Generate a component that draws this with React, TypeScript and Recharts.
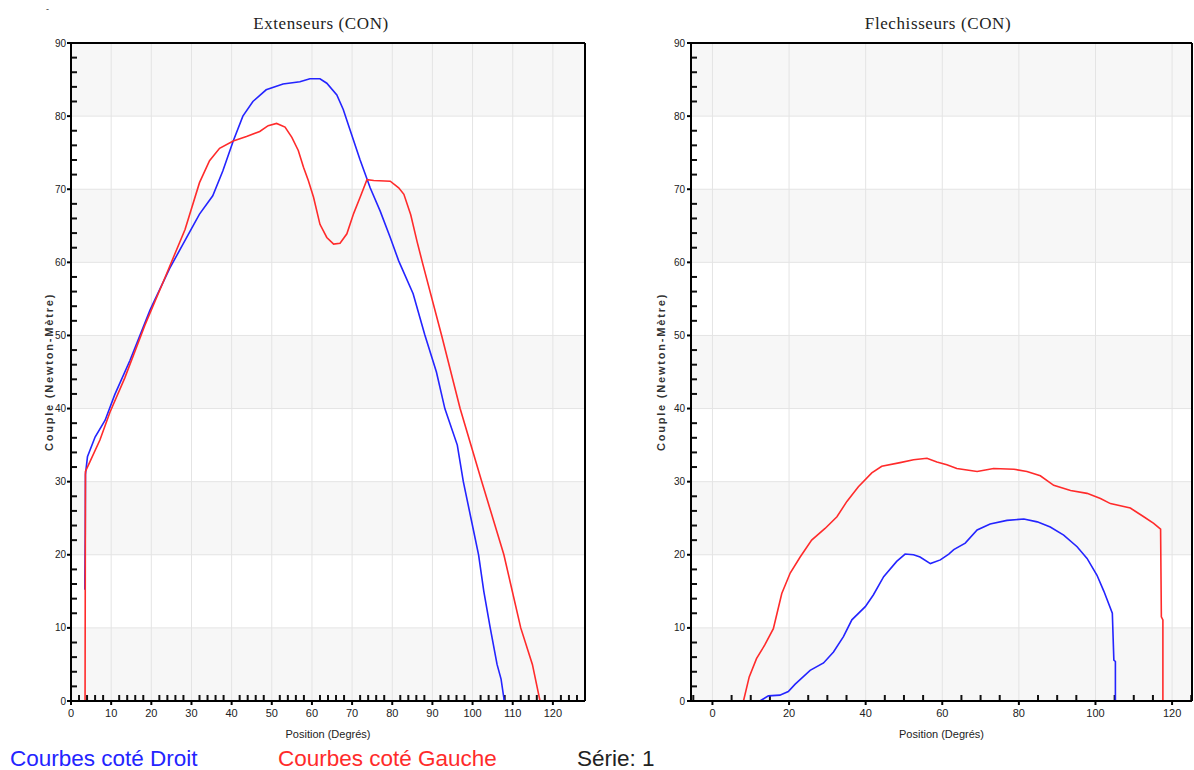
import React from "react";
import { LineChart, Line, XAxis, YAxis, CartesianGrid, ReferenceLine } from "recharts";

// Extenseurs (CON) – right side (blue) and left side (red)
const extDroitX = [3.45, 3.45, 3.55, 3.6, 4.1, 6.0, 8.5, 10.9, 14.7, 19.7, 24.6, 29.6, 32.0, 35.3, 37.8, 40.4, 42.8, 45.3, 48.6, 52.8, 57.0, 59.5, 62.0, 63.7, 66.2, 67.8, 69.5, 72.0, 74.5, 77.0, 79.5, 81.6, 85.2, 88.1, 91.0, 93.1, 96.2, 97.7, 99.6, 101.5, 102.8, 104.4, 106.1, 107.1, 107.9];
const extDroitY = [15.2, 16.4, 23.0, 31.0, 33.4, 36.1, 38.4, 41.9, 46.6, 53.5, 59.2, 64.2, 66.6, 69.1, 72.5, 76.6, 80.0, 82.0, 83.6, 84.4, 84.7, 85.1, 85.1, 84.5, 82.9, 80.9, 78.1, 74.0, 70.2, 67.0, 63.4, 60.2, 55.7, 50.1, 45.0, 40.0, 35.0, 30.0, 25.0, 20.0, 15.0, 10.0, 5.0, 3.0, 0];

const extGaucheX = [3.5, 3.6, 4.7, 7.2, 9.7, 13.4, 18.4, 23.4, 28.4, 32.0, 34.5, 37.0, 40.4, 43.7, 47.0, 49.1, 51.2, 53.3, 55.0, 56.6, 57.9, 59.1, 60.4, 62.0, 63.7, 65.4, 67.0, 68.7, 70.4, 72.0, 73.7, 75.4, 79.5, 81.6, 82.9, 84.6, 86.2, 87.5, 92.3, 96.9, 102.3, 107.8, 112.0, 114.9, 116.8];
const extGaucheY = [0, 31.4, 32.7, 35.7, 39.5, 44.2, 51.4, 57.9, 64.5, 70.9, 73.9, 75.6, 76.6, 77.2, 77.9, 78.7, 79.0, 78.5, 77.1, 75.3, 73.0, 71.2, 68.9, 65.2, 63.4, 62.5, 62.6, 63.9, 66.7, 68.9, 71.3, 71.2, 71.1, 70.2, 69.3, 66.5, 62.8, 60.0, 50.0, 40.0, 30.0, 20.0, 10.0, 5.0, 0];

// Flechisseurs (CON)
const flxDroitX = [12.4, 14.6, 17.6, 19.8, 21.6, 25.5, 29.0, 31.6, 34.2, 36.4, 39.9, 42.0, 44.7, 48.1, 50.3, 52.5, 54.2, 56.9, 59.5, 61.7, 63.0, 66.0, 69.1, 72.5, 76.9, 81.3, 84.8, 88.2, 91.7, 95.2, 97.8, 100.4, 102.2, 104.4, 104.8, 105.2, 105.2];
const flxDroitY = [0, 0.7, 0.8, 1.3, 2.3, 4.2, 5.2, 6.7, 8.8, 11.1, 12.9, 14.5, 17.0, 19.1, 20.1, 20.0, 19.7, 18.8, 19.3, 20.1, 20.7, 21.6, 23.4, 24.2, 24.7, 24.9, 24.5, 23.8, 22.7, 21.1, 19.5, 17.2, 15.0, 12.0, 5.6, 5.4, 0];

const flxGaucheX = [8.1, 9.6, 11.5, 13.7, 15.9, 18.1, 20.3, 22.9, 25.9, 29.4, 32.5, 35.1, 38.1, 41.6, 44.2, 49.0, 52.5, 56.0, 58.6, 61.2, 63.8, 69.1, 73.4, 78.7, 82.1, 85.6, 89.1, 93.5, 97.8, 101.3, 103.9, 109.1, 112.6, 115.2, 117.0, 117.2, 117.6, 117.6];
const flxGaucheY = [0, 3.3, 5.8, 7.7, 9.9, 14.7, 17.5, 19.7, 22.0, 23.6, 25.2, 27.3, 29.3, 31.2, 32.1, 32.6, 33.0, 33.2, 32.7, 32.3, 31.8, 31.4, 31.8, 31.7, 31.4, 30.8, 29.5, 28.8, 28.4, 27.7, 27.0, 26.4, 25.2, 24.3, 23.5, 11.5, 11.1, 0];

// axes: labelled (major) ticks, plus the small unlabelled ticks between them
const yTicks = [0, 10, 20, 30, 40, 50, 60, 70, 80, 90];
const extXTicks = [0, 10, 20, 30, 40, 50, 60, 70, 80, 90, 100, 110, 120];
const flxXTicks = [0, 20, 40, 60, 80, 100, 120];

const minorOf = (from: number, to: number, step: number, majors: number[]) => {
  const out: number[] = [];
  for (let v = from; v <= to + 1e-9; v += step) {
    const r = Math.round(v * 10) / 10;
    if (!majors.includes(r)) out.push(r);
  }
  return out;
};
const yMinor = minorOf(0, 88, 2, yTicks);
const extXMinor = minorOf(2, 126, 2, extXTicks);
const flxXMinor = minorOf(-5, 125, 5, flxXTicks);

const BLUE = "#2424ff";
const RED = "#ff2b2b";
const SANS = "Liberation Sans, Arial, sans-serif";
const SERIF = "Liberation Serif, Times New Roman, serif";
const TICK = 4;
const MINOR_PX = 6;
const PLOT_TOP = 43;
const PLOT_BOTTOM = 29 + 40;
const Y_DOMAIN: [number, number] = [0, 90];

const toPoints = (xs: number[], ys: number[]) => xs.map((x, i) => ({ x, y: ys[i] }));

// labelled ticks point outwards
const makeXTick = (margin: number) => (props: any) => {
  const { x, y, payload } = props;
  const axisY = y - TICK - margin;
  return (
    <g>
      <line x1={x} x2={x} y1={axisY} y2={axisY + TICK} stroke="#000" strokeWidth={2} />
      <text x={x} y={y} dy="0.71em" textAnchor="middle" fontSize={11} fill="#222" fontFamily={SANS}>
        {payload.value}
      </text>
    </g>
  );
};

const makeYTick = (margin: number) => (props: any) => {
  const { x, y, payload } = props;
  const axisX = x + TICK + margin;
  return (
    <g>
      <line x1={axisX - TICK} x2={axisX} y1={y} y2={y} stroke="#000" strokeWidth={2} />
      <text x={x} y={y} dy="0.355em" textAnchor="end" fontSize={10} fill="#222" fontFamily={SANS}>
        {payload.value}
      </text>
    </g>
  );
};

interface PanelProps {
  title: string;
  titleCenter: number;
  left: number;
  width: number;
  marginLeft: number;
  marginRight: number;
  xDomain: [number, number];
  xTicks: number[];
  xMinor: number[];
  droit: { x: number; y: number }[];
  gauche: { x: number; y: number }[];
  yLabelDx: number;
  yTickMargin: number;
}

function Panel(p: PanelProps) {
  const yAxisWidth = 40;
  const plotW = p.width - p.marginLeft - yAxisWidth - p.marginRight;
  const plotH = 770 - PLOT_TOP - PLOT_BOTTOM;
  // minor tick lengths expressed in axis units so they point into the plot
  const dxMinor = ((p.xDomain[1] - p.xDomain[0]) / plotW) * MINOR_PX;
  const dyMinor = ((Y_DOMAIN[1] - Y_DOMAIN[0]) / plotH) * MINOR_PX;
  return (
    <div style={{ position: "absolute", left: p.left, top: 0, width: p.width, height: 770 }}>
      <div
        style={{
          position: "absolute",
          left: p.titleCenter - 150,
          width: 300,
          top: 15,
          textAlign: "center",
          fontFamily: SERIF,
          fontSize: 17,
          lineHeight: 1,
          letterSpacing: 0.6,
          color: "#222",
        }}
      >
        {p.title}
      </div>
      <LineChart
        width={p.width}
        height={770}
        margin={{ top: PLOT_TOP, right: p.marginRight, bottom: 29, left: p.marginLeft }}
      >
        <CartesianGrid stroke="#e4e4e4" horizontalFill={["#f7f7f7", "#ffffff"]} />
        <XAxis
          type="number"
          dataKey="x"
          domain={p.xDomain}
          allowDataOverflow
          ticks={p.xTicks}
          interval={0}
          height={40}
          tickSize={TICK}
          tickMargin={4}
          axisLine={{ stroke: "#000", strokeWidth: 2 }}
          tickLine={false}
          tick={makeXTick(4)}
          label={{
            value: "Position (Degrés)",
            position: "insideBottom",
            offset: 3,
            fontSize: 11,
            fill: "#222",
            fontFamily: SANS,
          }}
        />
        <YAxis
          type="number"
          dataKey="y"
          domain={Y_DOMAIN}
          allowDataOverflow
          ticks={yTicks}
          interval={0}
          width={yAxisWidth}
          tickSize={TICK}
          tickMargin={p.yTickMargin}
          axisLine={{ stroke: "#000", strokeWidth: 2 }}
          tickLine={false}
          tick={makeYTick(p.yTickMargin)}
          label={{
            value: "Couple (Newton-Mètre)",
            angle: -90,
            position: "center",
            dx: p.yLabelDx,
            fontSize: 11,
            fontWeight: "bold",
            letterSpacing: 1.8,
            fill: "#333",
            fontFamily: SANS,
          }}
        />
        {p.xMinor.map((v) => (
          <ReferenceLine
            key={`xm${v}`}
            segment={[
              { x: v, y: Y_DOMAIN[0] },
              { x: v, y: Y_DOMAIN[0] + dyMinor },
            ]}
            stroke="#111"
            strokeWidth={2}
          />
        ))}
        {yMinor.map((v) => (
          <ReferenceLine
            key={`ym${v}`}
            segment={[
              { x: p.xDomain[0], y: v },
              { x: p.xDomain[0] + dxMinor, y: v },
            ]}
            stroke="#111"
            strokeWidth={2}
          />
        ))}
        <ReferenceLine y={90} stroke="#000" strokeWidth={2} />
        <ReferenceLine x={p.xDomain[1]} stroke="#000" strokeWidth={2} />
        <Line
          data={p.droit}
          dataKey="y"
          type="linear"
          stroke={BLUE}
          strokeWidth={1.6}
          dot={false}
          isAnimationActive={false}
        />
        <Line
          data={p.gauche}
          dataKey="y"
          type="linear"
          stroke={RED}
          strokeWidth={1.6}
          dot={false}
          isAnimationActive={false}
        />
      </LineChart>
    </div>
  );
}

export default function App() {
  const legendStyle: React.CSSProperties = {
    position: "absolute",
    top: 748,
    fontFamily: SANS,
    fontSize: 22.5,
    lineHeight: 1,
    whiteSpace: "nowrap",
  };
  return (
    <div
      style={{
        position: "absolute",
        left: 0,
        top: 0,
        width: 1194,
        height: 770,
        background: "#fff",
        overflow: "hidden",
      }}
    >
      <div style={{ position: "absolute", left: 46, top: 4, fontSize: 9, fontFamily: SANS, color: "#333" }}>-</div>
      <Panel
        title="Extenseurs (CON)"
        titleCenter={321}
        left={0}
        width={600}
        marginLeft={31}
        marginRight={15}
        xDomain={[0, 128]}
        xTicks={extXTicks}
        xMinor={extXMinor}
        droit={toPoints(extDroitX, extDroitY)}
        gauche={toPoints(extGaucheX, extGaucheY)}
        yLabelDx={-2}
        yTickMargin={1}
      />
      <Panel
        title="Flechisseurs (CON)"
        titleCenter={338}
        left={600}
        width={594}
        marginLeft={51}
        marginRight={2}
        xDomain={[-5.6, 125.2]}
        xTicks={flxXTicks}
        xMinor={flxXMinor}
        droit={toPoints(flxDroitX, flxDroitY)}
        gauche={toPoints(flxGaucheX, flxGaucheY)}
        yLabelDx={-10}
        yTickMargin={2}
      />
      <div style={{ ...legendStyle, left: 10, color: BLUE }}>Courbes coté Droit</div>
      <div style={{ ...legendStyle, left: 278, color: RED }}>Courbes coté Gauche</div>
      <div style={{ ...legendStyle, left: 577, color: "#222" }}>Série: 1</div>
    </div>
  );
}
